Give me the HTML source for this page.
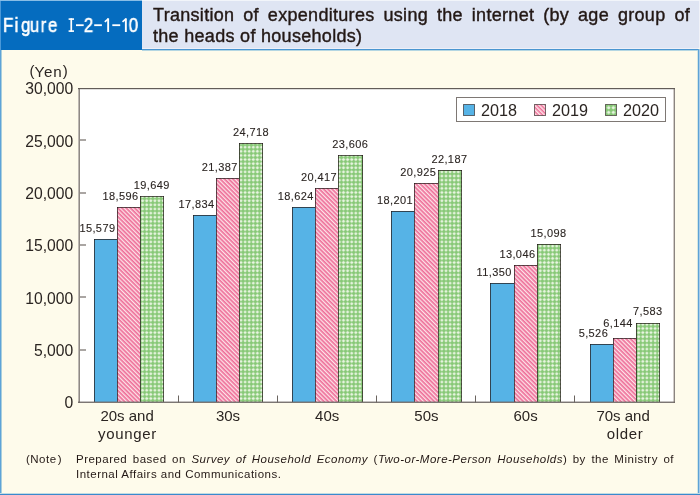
<!DOCTYPE html>
<html><head><meta charset="utf-8">
<style>
html,body{margin:0;padding:0;}
body{width:700px;height:495px;position:relative;overflow:hidden;background:#fefbeb;font-family:"Liberation Sans",sans-serif;}
.abs{position:absolute;}
#fig{left:0;top:0;width:142px;height:50px;background:#056cbf;}
#figt{will-change:transform;left:3.4px;top:13.2px;font-size:19.6px;color:#fff;white-space:nowrap;line-height:24px;transform:scaleX(0.86);transform-origin:0 0;-webkit-text-stroke:0.6px #fff;}
#figt span{display:inline-block;width:10.465px;text-align:center;}
#figt .tr{color:transparent;-webkit-text-stroke-color:transparent;}
#band{left:142px;top:0;width:557px;height:48px;background:#dfe5f3;}
#bline{left:142px;top:48px;width:556px;height:1px;background:#eef0f8;box-shadow:0 1px 0 #4a95d0,0 2px 0 #b4d6e2;}
#bl{left:0;top:50px;width:1px;height:445px;background:#5ea3d8;box-shadow:1px 0 0 #aacfdc;}
#br{left:698px;top:49px;width:1px;height:446px;background:#5ea2d6;box-shadow:1px 0 0 #a8cdea;}
#br2{left:697px;top:51px;width:1px;height:443px;background:#d4e6e2;}
#bandr{left:699px;top:0;width:1px;height:48px;background:#f0f2f8;}
#bb{left:0;top:494px;width:700px;height:1px;background:#3a8acd;box-shadow:0 -1px 0 #c2dce2;}
#ftop{left:0;top:0;width:142px;height:1px;background:#88bde6;}
#fleft{left:0;top:1px;width:1px;height:49px;background:#4a98d8;}
#btop{left:142px;top:0;width:558px;height:1px;background:#f2f5fa;}
#title{left:152.5px;top:5.2px;width:537px;font-size:18px;line-height:21px;letter-spacing:0.3px;color:#231815;white-space:nowrap;will-change:transform;-webkit-text-stroke:0.4px #231815;}
#title .l1{text-align:justify;text-align-last:justify;}
svg{will-change:transform;}
svg text{font-family:"Liberation Sans",sans-serif;fill:#2b2522;}
.dl{stroke:#2b2522;stroke-width:0.1px;}
.dl{font-size:11px;letter-spacing:0.4px;}
.xl{font-size:15px;}
.yl{font-size:15.7px;}
.yen{font-size:15.2px;letter-spacing:0.8px;}
.yenp{font-size:15px;}
.lg{font-size:16.2px;}
#note{will-change:transform;left:26px;top:451.8px;width:650px;font-size:11.5px;line-height:15.4px;color:#231815;letter-spacing:0.49px;}
#note .h{position:absolute;left:0;top:0;}
#note .b{position:absolute;left:50px;top:0;width:598px;white-space:nowrap;}
#note .l1{text-align:justify;text-align-last:justify;}
</style></head><body>
<div id="fig" class="abs"></div>
<div id="figt" class="abs"><span>F</span><span>i</span><span>g</span><span>u</span><span>r</span><span>e</span><span>&nbsp;</span><span class="tr">I</span><span class="tr">-</span><span>2</span><span class="tr">-</span><span class="tr">1</span><span class="tr">-</span><span class="tr">1</span><span>0</span></div>
<svg class="abs" style="left:0;top:0" width="142" height="50" viewBox="0 0 142 50">
<g fill="#fff">
<rect x="70.4" y="18.3" width="1.7" height="13.6"/><rect x="68.6" y="18.3" width="5.4" height="1.6"/><rect x="68.6" y="30.3" width="5.4" height="1.6"/>
<rect x="76" y="24.3" width="7.7" height="1.8"/><rect x="94.2" y="24.3" width="7.7" height="1.8"/><rect x="112.3" y="24.3" width="7.9" height="1.8"/>
<rect x="107.2" y="18.3" width="1.9" height="13.7"/><rect x="124.9" y="18.3" width="1.9" height="13.7"/>
</g>
<g stroke="#fff" stroke-width="1.7" fill="none">
<path d="M104.8,21.9 L108.3,18.9"/><path d="M122.5,21.9 L126,18.9"/>
</g>
</svg>
<div id="band" class="abs"></div>
<div id="bline" class="abs"></div>
<div id="bl" class="abs"></div>
<div id="br" class="abs"></div>
<div id="br2" class="abs"></div>
<div id="bandr" class="abs"></div>
<div id="bb" class="abs"></div>
<div id="ftop" class="abs"></div>
<div id="fleft" class="abs"></div>
<div id="btop" class="abs"></div>
<div id="title" class="abs"><div class="l1">Transition of expenditures using the internet (by age group of</div><div>the heads of households)</div></div>
<svg class="abs" style="left:0;top:0" width="700" height="495" viewBox="0 0 700 495">
<defs>
<pattern id="pk" patternUnits="userSpaceOnUse" width="3" height="3" patternTransform="rotate(-45)">
<rect width="3" height="3" fill="#ee6f99"/>
<rect x="0" y="0" width="1.3" height="3" fill="#fde4e8"/>
</pattern>
<pattern id="gr" patternUnits="userSpaceOnUse" x="238.95" y="301.64" width="4.1" height="4.12">
<rect width="4.1" height="4.12" fill="#87c877"/>
<rect x="0" y="1.45" width="4.1" height="1.2" fill="#a2d592"/>
<rect x="1.45" y="0" width="1.2" height="4.12" fill="#a2d592"/>
<circle cx="2.05" cy="2.06" r="1.28" fill="#e9f5e2"/>
</pattern>
<pattern id="grl" patternUnits="userSpaceOnUse" x="606.4" y="105.4" width="4.6" height="4.6">
<rect width="4.6" height="4.6" fill="#87c877"/>
<rect x="0" y="1.7" width="4.6" height="1.2" fill="#a2d592"/>
<rect x="1.7" y="0" width="1.2" height="4.6" fill="#a2d592"/>
<circle cx="2.3" cy="2.3" r="1.45" fill="#e9f5e2"/>
</pattern>
<pattern id="pkl" patternUnits="userSpaceOnUse" width="3" height="3" patternTransform="rotate(-45)">
<rect width="3" height="3" fill="#ee6f99"/>
<rect x="0" y="0" width="1.5" height="3" fill="#fde4e8"/>
</pattern>
</defs>
<rect x="78" y="88" width="597" height="315" fill="#fff"/>
<rect x="80" y="349.4" width="6" height="1.2" fill="#726c68"/>
<rect x="80" y="296.4" width="6" height="1.2" fill="#726c68"/>
<rect x="80" y="244.4" width="6" height="1.2" fill="#726c68"/>
<rect x="80" y="192.4" width="6" height="1.2" fill="#726c68"/>
<rect x="80" y="139.4" width="6" height="1.2" fill="#726c68"/>
<rect x="178" y="395.5" width="1" height="7" fill="#6a645f"/>
<rect x="277" y="395.5" width="1" height="7" fill="#6a645f"/>
<rect x="376" y="395.5" width="1" height="7" fill="#6a645f"/>
<rect x="475" y="395.5" width="1" height="7" fill="#6a645f"/>
<rect x="574" y="395.5" width="1" height="7" fill="#6a645f"/>
<rect x="94" y="239" width="23" height="163" fill="#56b3e6"/>
<text class="dl" x="97.40" y="231.74" text-anchor="middle">15,579</text>
<rect x="117" y="207" width="23" height="195" fill="url(#pk)"/>
<text class="dl" x="120.60" y="200.16" text-anchor="middle">18,596</text>
<rect x="140" y="196" width="24" height="206" fill="url(#gr)"/>
<text class="dl" x="151.80" y="189.14" text-anchor="middle">19,649</text>
<rect x="94" y="239" width="23" height="1" fill="rgba(35,25,25,0.72)"/>
<rect x="94" y="239" width="1" height="163" fill="rgba(35,25,25,0.72)"/>
<rect x="117" y="207" width="23" height="1" fill="rgba(35,25,25,0.72)"/>
<rect x="117" y="207" width="1" height="195" fill="rgba(35,25,25,0.72)"/>
<rect x="140" y="196" width="24" height="1" fill="rgba(35,25,25,0.72)"/>
<rect x="140" y="196" width="1" height="206" fill="rgba(35,25,25,0.72)"/>
<rect x="163" y="196" width="1" height="206" fill="rgba(35,25,25,0.72)"/>
<text class="xl" x="127.10" y="420.8" text-anchor="middle">20s and</text>
<text class="xl" x="127.40" y="438.5" text-anchor="middle" letter-spacing="0.65">younger</text>
<rect x="193" y="215" width="23" height="187" fill="#56b3e6"/>
<text class="dl" x="196.60" y="208.14" text-anchor="middle">17,834</text>
<rect x="216" y="178" width="23" height="224" fill="url(#pk)"/>
<text class="dl" x="219.80" y="170.95" text-anchor="middle">21,387</text>
<rect x="239" y="143" width="24" height="259" fill="url(#gr)"/>
<text class="dl" x="251.00" y="136.08" text-anchor="middle">24,718</text>
<rect x="193" y="215" width="23" height="1" fill="rgba(35,25,25,0.72)"/>
<rect x="193" y="215" width="1" height="187" fill="rgba(35,25,25,0.72)"/>
<rect x="216" y="178" width="23" height="1" fill="rgba(35,25,25,0.72)"/>
<rect x="216" y="178" width="1" height="224" fill="rgba(35,25,25,0.72)"/>
<rect x="239" y="143" width="24" height="1" fill="rgba(35,25,25,0.72)"/>
<rect x="239" y="143" width="1" height="259" fill="rgba(35,25,25,0.72)"/>
<rect x="262" y="143" width="1" height="259" fill="rgba(35,25,25,0.72)"/>
<text class="xl" x="228.00" y="420.8" text-anchor="middle">30s</text>
<rect x="292" y="207" width="23" height="195" fill="#56b3e6"/>
<text class="dl" x="295.80" y="199.87" text-anchor="middle">18,624</text>
<rect x="315" y="188" width="23" height="214" fill="url(#pk)"/>
<text class="dl" x="319.00" y="181.10" text-anchor="middle">20,417</text>
<rect x="338" y="155" width="25" height="247" fill="url(#gr)"/>
<text class="dl" x="350.20" y="147.72" text-anchor="middle">23,606</text>
<rect x="292" y="207" width="23" height="1" fill="rgba(35,25,25,0.72)"/>
<rect x="292" y="207" width="1" height="195" fill="rgba(35,25,25,0.72)"/>
<rect x="315" y="188" width="23" height="1" fill="rgba(35,25,25,0.72)"/>
<rect x="315" y="188" width="1" height="214" fill="rgba(35,25,25,0.72)"/>
<rect x="338" y="155" width="25" height="1" fill="rgba(35,25,25,0.72)"/>
<rect x="338" y="155" width="1" height="247" fill="rgba(35,25,25,0.72)"/>
<rect x="362" y="155" width="1" height="247" fill="rgba(35,25,25,0.72)"/>
<text class="xl" x="327.20" y="420.8" text-anchor="middle">40s</text>
<rect x="391" y="211" width="23" height="191" fill="#56b3e6"/>
<text class="dl" x="395.00" y="204.30" text-anchor="middle">18,201</text>
<rect x="414" y="183" width="24" height="219" fill="url(#pk)"/>
<text class="dl" x="418.20" y="175.78" text-anchor="middle">20,925</text>
<rect x="438" y="170" width="24" height="232" fill="url(#gr)"/>
<text class="dl" x="449.40" y="162.58" text-anchor="middle">22,187</text>
<rect x="391" y="211" width="23" height="1" fill="rgba(35,25,25,0.72)"/>
<rect x="391" y="211" width="1" height="191" fill="rgba(35,25,25,0.72)"/>
<rect x="414" y="183" width="24" height="1" fill="rgba(35,25,25,0.72)"/>
<rect x="414" y="183" width="1" height="219" fill="rgba(35,25,25,0.72)"/>
<rect x="438" y="170" width="24" height="1" fill="rgba(35,25,25,0.72)"/>
<rect x="438" y="170" width="1" height="232" fill="rgba(35,25,25,0.72)"/>
<rect x="461" y="170" width="1" height="232" fill="rgba(35,25,25,0.72)"/>
<text class="xl" x="426.40" y="420.8" text-anchor="middle">50s</text>
<rect x="490" y="283" width="24" height="119" fill="#56b3e6"/>
<text class="dl" x="494.20" y="276.00" text-anchor="middle">11,350</text>
<rect x="514" y="265" width="23" height="137" fill="url(#pk)"/>
<text class="dl" x="517.40" y="258.25" text-anchor="middle">13,046</text>
<rect x="537" y="244" width="24" height="158" fill="url(#gr)"/>
<text class="dl" x="548.60" y="236.77" text-anchor="middle">15,098</text>
<rect x="490" y="283" width="24" height="1" fill="rgba(35,25,25,0.72)"/>
<rect x="490" y="283" width="1" height="119" fill="rgba(35,25,25,0.72)"/>
<rect x="514" y="265" width="23" height="1" fill="rgba(35,25,25,0.72)"/>
<rect x="514" y="265" width="1" height="137" fill="rgba(35,25,25,0.72)"/>
<rect x="537" y="244" width="24" height="1" fill="rgba(35,25,25,0.72)"/>
<rect x="537" y="244" width="1" height="158" fill="rgba(35,25,25,0.72)"/>
<rect x="560" y="244" width="1" height="158" fill="rgba(35,25,25,0.72)"/>
<text class="xl" x="525.60" y="420.8" text-anchor="middle">60s</text>
<rect x="590" y="344" width="23" height="58" fill="#56b3e6"/>
<text class="dl" x="593.40" y="336.96" text-anchor="middle">5,526</text>
<rect x="613" y="338" width="23" height="64" fill="url(#pk)"/>
<text class="dl" x="618.10" y="327.49" text-anchor="middle">6,144</text>
<rect x="636" y="323" width="24" height="79" fill="url(#gr)"/>
<text class="dl" x="647.80" y="315.43" text-anchor="middle">7,583</text>
<rect x="590" y="344" width="23" height="1" fill="rgba(35,25,25,0.72)"/>
<rect x="590" y="344" width="1" height="58" fill="rgba(35,25,25,0.72)"/>
<rect x="613" y="338" width="23" height="1" fill="rgba(35,25,25,0.72)"/>
<rect x="613" y="338" width="1" height="64" fill="rgba(35,25,25,0.72)"/>
<rect x="636" y="323" width="24" height="1" fill="rgba(35,25,25,0.72)"/>
<rect x="636" y="323" width="1" height="79" fill="rgba(35,25,25,0.72)"/>
<rect x="659" y="323" width="1" height="79" fill="rgba(35,25,25,0.72)"/>
<text class="xl" x="623.10" y="420.8" text-anchor="middle">70s and</text>
<text class="xl" x="625.10" y="438.5" text-anchor="middle" letter-spacing="0.65">older</text>
<rect x="78" y="88" width="1" height="315" fill="#bdb8b3"/>
<rect x="79" y="88" width="1" height="315" fill="#8f8984"/>
<rect x="673" y="88" width="1" height="315" fill="#d2cdc9"/>
<rect x="674" y="88" width="1" height="315" fill="#8a847f"/>
<rect x="78" y="88" width="597" height="1.2" fill="#625c58"/>
<rect x="78" y="401.6" width="597" height="1.3" fill="#6e6864"/>
<text class="yl" x="73.3" y="408.40" text-anchor="end">0</text>
<text class="yl" x="73.3" y="356.07" text-anchor="end">5,000</text>
<text class="yl" x="73.3" y="303.73" text-anchor="end">10,000</text>
<text class="yl" x="73.3" y="251.40" text-anchor="end">15,000</text>
<text class="yl" x="73.3" y="199.07" text-anchor="end">20,000</text>
<text class="yl" x="73.3" y="146.73" text-anchor="end">25,000</text>
<text class="yl" x="73.3" y="94.40" text-anchor="end">30,000</text>
<text class="yen" x="48.6" y="76.5" text-anchor="middle">Yen</text>
<text class="yenp" x="29.6" y="75.6">(</text>
<text class="yenp" x="67.8" y="75.6" text-anchor="end">)</text>
<rect x="456.5" y="97.5" width="209" height="24" fill="#fff" stroke="#7e7874" stroke-width="1"/>
<rect x="463.5" y="104.5" width="11" height="11" fill="#56b3e6" stroke="rgba(35,25,25,0.62)" stroke-width="1"/>
<text class="lg" x="481" y="115.8">2018</text>
<rect x="534.5" y="104.5" width="11" height="11" fill="url(#pkl)" stroke="rgba(35,25,25,0.62)" stroke-width="1"/>
<text class="lg" x="552" y="115.8">2019</text>
<rect x="605.5" y="104.5" width="11" height="11" fill="url(#grl)" stroke="rgba(35,25,25,0.62)" stroke-width="1"/>
<text class="lg" x="623" y="115.8">2020</text>
</svg>
<div id="note" class="abs"><span class="h">(Note<span style="margin-left:1.2px">)</span></span><span class="b"><div class="l1">Prepared based on <i>Survey of Household Economy</i> (<i>Two-or-More-Person Households</i>) by the Ministry of</div><div>Internal Affairs and Communications.</div></span></div>
</body></html>
